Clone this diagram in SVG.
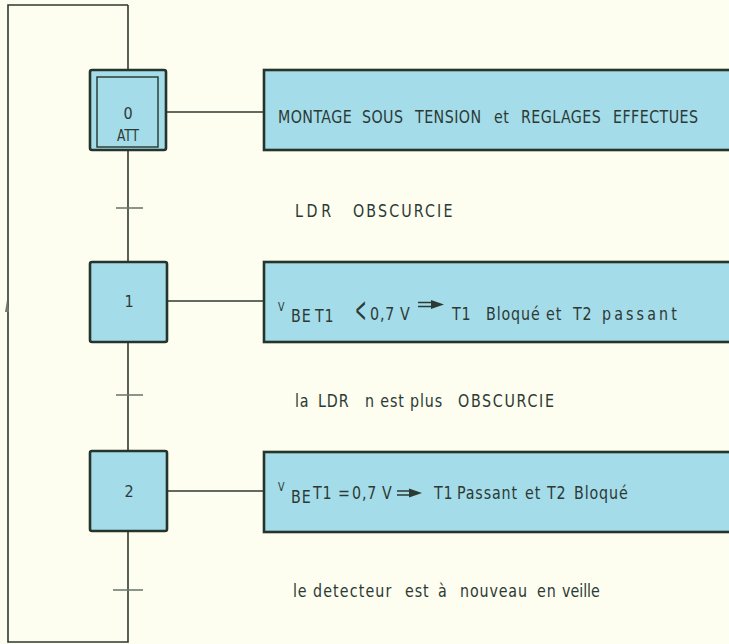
<svg xmlns="http://www.w3.org/2000/svg" width="729" height="644" viewBox="0 0 729 644">
<style>
.step{fill:#a4dcea;stroke:#26352c;stroke-width:2.6}
.inner{fill:none;stroke:#26352c;stroke-width:1.4}
.act{fill:#a4dcea;stroke:#26352c;stroke-width:2.6}
.ln{stroke:#2e3a32;stroke-width:1.6;fill:none}
.tk{stroke:#6e7a72;stroke-width:1.6}
.ar{stroke:#2c3a34;stroke-width:1.6}
.ah{fill:#2c3a34}
text{font-family:"DejaVu Sans Condensed","DejaVu Sans",sans-serif;fill:#2c3a34;font-size:18px;letter-spacing:1px}
.h{letter-spacing:0.5px}
.s{font-size:12px}
.n{font-size:16px;text-anchor:middle;letter-spacing:0}
</style>
<rect width="729" height="644" fill="#fdfdf0"/>
<g id="connectors">
<path class="ln" d="M128,5 H8 V642 H128 V5"/>
<path d="M5,312 L7,300 L9,312 Z" fill="#6e7a72"/>
<line class="ln" x1="166" y1="112" x2="264" y2="112"/>
<line class="ln" x1="166" y1="301" x2="264" y2="301"/>
<line class="ln" x1="166" y1="491" x2="264" y2="491"/>
<line class="tk" x1="116" y1="208" x2="143" y2="208"/>
<line class="tk" x1="116" y1="395" x2="143" y2="395"/>
<line class="tk" x1="113" y1="590" x2="143" y2="590"/>
</g>
<g id="step0">
<rect class="step" x="90" y="70" width="76" height="80" rx="2"/>
<rect class="inner" x="97" y="77" width="61" height="70"/>
<text class="n" x="128" y="119">0</text>
<text class="n" transform="translate(128,141) scale(0.85,1)">ATT</text>
</g>
<g id="step1">
<rect class="step" x="90" y="262" width="77" height="80" rx="2"/>
<text class="n" x="129" y="307">1</text>
</g>
<g id="step2">
<rect class="step" x="90" y="451" width="77" height="80" rx="2"/>
<text class="n" x="129" y="497">2</text>
</g>
<g id="action0">
<rect class="act" x="264" y="70" width="480" height="80"/>
<text class="h" transform="translate(278,123) scale(0.88,1)">MONTAGE</text>
<text class="h" transform="translate(362,123) scale(0.88,1)">SOUS</text>
<text class="h" transform="translate(415,123) scale(0.88,1)">TENSION</text>
<text class="h" transform="translate(494,123) scale(0.88,1)">et</text>
<text class="h" transform="translate(521,123) scale(0.88,1)">REGLAGES</text>
<text class="h" transform="translate(613,123) scale(0.88,1)">EFFECTUES</text>
</g>
<g id="action1">
<rect class="act" x="264" y="262" width="480" height="80"/>
<text class="s" transform="translate(278,311) scale(0.88,1)">V</text>
<text transform="translate(291,322) scale(0.88,1)">BE</text>
<text transform="translate(315,322) scale(0.88,1)">T1</text>
<text transform="translate(355,322) scale(0.45,1.2)" style="font-size:30px;letter-spacing:0;font-family:'DejaVu Sans ExtraLight','DejaVu Sans',sans-serif">&lt;</text>
<text transform="translate(370,320) scale(0.88,1)">0,7</text>
<text transform="translate(400,320) scale(0.88,1)">V</text>
<path class="ar" d="M418,302.5 H433 M418,306.5 H433"/>
<path class="ah" d="M431,300 L444,304.5 L431,309 Z"/>
<text transform="translate(452,320) scale(0.88,1)">T1</text>
<text transform="translate(486,320) scale(0.88,1)">Bloqué</text>
<text transform="translate(546,320) scale(0.88,1)">et</text>
<text transform="translate(573,320) scale(0.88,1)">T2</text>
<text transform="translate(602,320) scale(0.88,1)" textLength="86" lengthAdjust="spacing">passant</text>
</g>
<g id="action2">
<rect class="act" x="264" y="452" width="480" height="80"/>
<text class="s" transform="translate(278,491) scale(0.88,1)">V</text>
<text transform="translate(291,503) scale(0.88,1)">BE</text>
<text transform="translate(313,499) scale(0.88,1)">T1</text>
<text transform="translate(338,499) scale(0.88,1)">=</text>
<text transform="translate(352,499) scale(0.88,1)">0,7</text>
<text transform="translate(382,499) scale(0.88,1)">V</text>
<path class="ar" d="M397,491 H411 M397,495 H411"/>
<path class="ah" d="M409,488.5 L422,493 L409,497.5 Z"/>
<text transform="translate(434,499) scale(0.88,1)">T1</text>
<text transform="translate(457,499) scale(0.88,1)">Passant</text>
<text transform="translate(525,499) scale(0.88,1)">et</text>
<text transform="translate(547,499) scale(0.88,1)">T2</text>
<text transform="translate(574,499) scale(0.88,1)">Bloqué</text>
</g>
<g id="transitions">
<text transform="translate(295,217) scale(0.88,1)" style="letter-spacing:0;word-spacing:-1px">L D R</text>
<text transform="translate(353,217) scale(0.88,1)" textLength="114" lengthAdjust="spacing">OBSCURCIE</text>
<text transform="translate(295,407) scale(0.88,1)">la</text>
<text transform="translate(318,407) scale(0.88,1)">LDR</text>
<text transform="translate(365,407) scale(0.88,1)">n est</text>
<text transform="translate(410,407) scale(0.88,1)">plus</text>
<text transform="translate(458,407) scale(0.88,1)" textLength="110" lengthAdjust="spacing">OBSCURCIE</text>
<text transform="translate(293,597) scale(0.88,1)">le</text>
<text transform="translate(313,597) scale(0.88,1)" textLength="90" lengthAdjust="spacing">detecteur</text>
<text transform="translate(405,597) scale(0.88,1)">est</text>
<text transform="translate(438,597) scale(0.88,1)">à</text>
<text transform="translate(460,597) scale(0.88,1)">nouveau</text>
<text transform="translate(537,597) scale(0.88,1)">en</text>
<text transform="translate(562,597) scale(0.88,1)" style="letter-spacing:0">veille</text>
</g>
</svg>
